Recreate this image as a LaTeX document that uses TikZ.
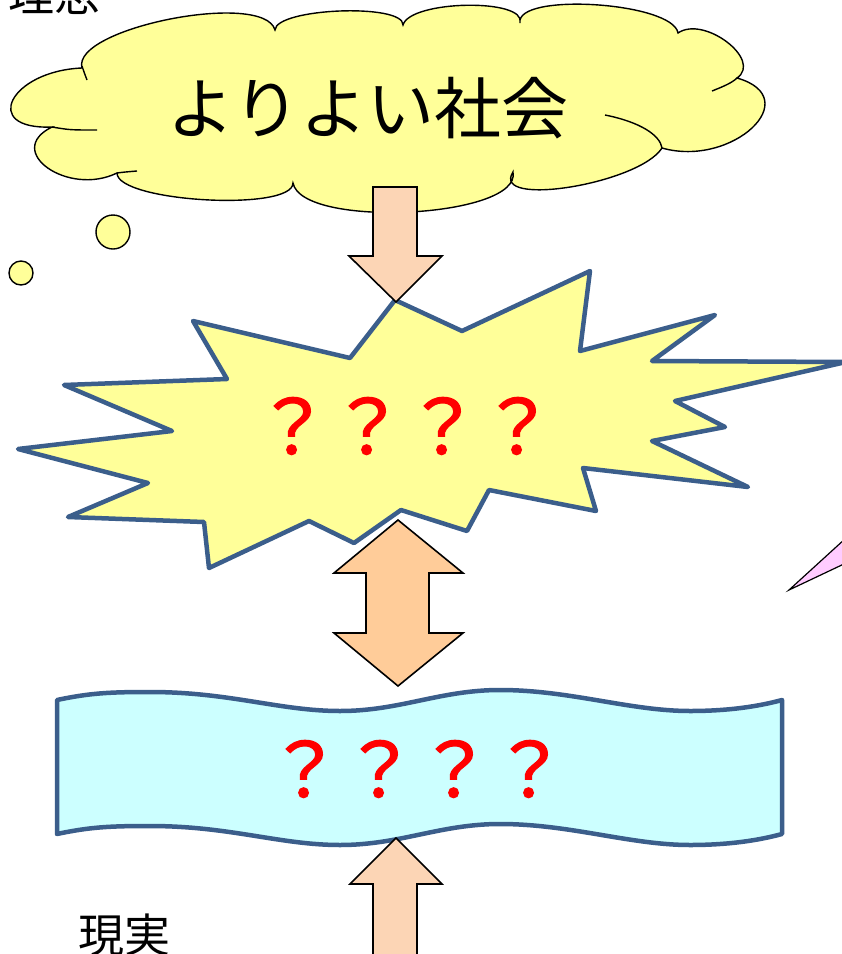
\documentclass[tikz,border=0pt]{standalone}
\usepackage{fontspec}
\setmainfont{Noto Sans CJK JP}
\newfontfamily\qfont{Noto Sans CJK JP}[FakeBold=1.6]
\usepackage{tikz}

\definecolor{puffyellow}{HTML}{FFFF99}
\definecolor{burstblue}{HTML}{3B5E8B}
\definecolor{bandcyan}{HTML}{CCFFFF}
\definecolor{arrowpeach}{HTML}{FCD5B5}
\definecolor{arroworange}{HTML}{FFCC99}
\definecolor{pointerpink}{HTML}{FFCCFF}

\begin{document}
\begin{tikzpicture}[x=1pt,y=-1pt,
  puff/.style={draw=black, line width=1.4pt, fill=puffyellow},
  burst/.style={draw=burstblue, line width=4.5pt, line join=round, fill=puffyellow},
  band/.style={draw=burstblue, line width=4.5pt, line join=round, fill=bandcyan},
  blockarrow/.style={draw=black, line width=1.6pt, line join=miter, fill=arrowpeach},
  question/.style={text=red, font=\qfont\fontsize{75}{75}\selectfont, inner sep=0pt},
  sidetext/.style={font=\fontsize{46}{46}\selectfont, inner sep=0pt}]

\useasboundingbox (0,0) rectangle (842,954);
\clip (0,0) rectangle (842,954);

% thought cloud
\draw[puff] (82,68) .. controls (71,28) and (264,-10) .. (275,30)
  .. controls (276,8) and (404,3) .. (403,25)
  .. controls (410,0) and (527,-2) .. (520,23)
  .. controls (515,-8) and (673,2) .. (678,33)
  .. controls (704,15) and (763,60) .. (737,78)
  .. controls (807,98) and (732,168) .. (662,148)
  .. controls (639,184) and (490,208) .. (513,172)
  .. controls (522,218) and (302,229) .. (293,183)
  .. controls (293,212) and (117,202) .. (117,173)
  .. controls (68,197) and (3,151) .. (52,127)
  .. controls (-20,130) and (10,71) .. (82,68) -- cycle;
\draw[line width=1.4pt] (82,66) .. controls (84,72) .. (87,80);
\draw[line width=1.4pt] (52,127) .. controls (70,130) .. (97,130);
\draw[line width=1.4pt] (117,173) .. controls (125,172) .. (137,171);
\draw[line width=1.4pt] (712,91) .. controls (722,87) and (732,83) .. (737,78);
\draw[line width=1.4pt] (605,115) .. controls (640,122) and (660,135) .. (662,148);
\draw[puff] (113,232) circle[radius=17];
\draw[puff] (21,273) circle[radius=12];

% starburst
\draw[burst] (395,300) -- (462,331) -- (590,271) -- (580,351) -- (715,315)
  -- (652,361) -- (846,362) -- (675,401) -- (725,427) -- (652,441)
  -- (748,487) -- (583,468) -- (596,511) -- (489,490) -- (467,531)
  -- (401,510) -- (354,543) -- (309,521) -- (209,568) -- (204,522)
  -- (68,517) -- (148,483) -- (18,449) -- (172,431) -- (64,385)
  -- (227,379) -- (193,321) -- (350,358) -- cycle;

% wavy band
\draw[band] (57,700) .. controls (90,693) and (110,692) .. (150,692)
  .. controls (230,692) and (280,711) .. (340,711)
  .. controls (400,711) and (440,690) .. (500,690)
  .. controls (570,690) and (630,711) .. (690,711)
  .. controls (730,711) and (760,706) .. (782,700)
  -- (782,834)
  .. controls (760,840) and (730,845) .. (690,845)
  .. controls (630,845) and (570,824) .. (500,824)
  .. controls (440,824) and (400,845) .. (340,845)
  .. controls (280,845) and (230,826) .. (150,826)
  .. controls (110,826) and (90,827) .. (57,834) -- cycle;

% block arrows
\draw[blockarrow] (373,187) -- (417,187) -- (417,256) -- (442,256) -- (396,302)
  -- (349,256) -- (373,256) -- cycle;
\draw[blockarrow, fill=arroworange] (398,520) -- (463,573) -- (429,573) -- (429,633)
  -- (463,633) -- (398,686) -- (334,633) -- (366,633) -- (366,573) -- (334,573) -- cycle;
\draw[blockarrow] (396,838) -- (442,884) -- (417,884) -- (417,960) -- (373,960)
  -- (373,884) -- (350,884) -- cycle;

% callout pointer at the right edge
\draw[fill=pointerpink, line width=1.2pt] (789,590) -- (846,538) -- (846,563) -- cycle;

\node[font=\fontsize{67}{67}\selectfont, inner sep=0pt] (goal) at (368,108) {よりよい社会};
\node[question] (burstq) at (405,426) {？？？？};
\node[question] (bandq) at (417,769) {？？？？};
\node[sidetext] (ideal) at (55,-6) {理念};
\node[sidetext] (real) at (124,935) {現実};
\end{tikzpicture}
\end{document}
